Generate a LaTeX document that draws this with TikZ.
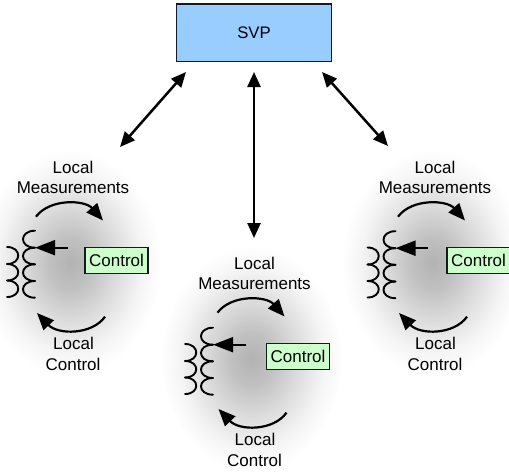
\documentclass[tikz,border=0pt]{standalone}
\usepackage{fontspec}
\setmainfont{Liberation Sans}
\usetikzlibrary{arrows.meta}
\definecolor{glowc}{HTML}{B2B2B2}
\definecolor{svpblue}{HTML}{99CCFF}
\definecolor{ctrlgreen}{HTML}{CCFFCC}
\definecolor{edgec}{HTML}{141A20}
\pgfdeclareradialshading{glowshade}{\pgfpoint{0bp}{0bp}}{color(0bp)=(glowc);color(6bp)=(glowc!80!white);color(12.5bp)=(glowc!47!white);color(20bp)=(glowc!13!white);color(25bp)=(white);color(50bp)=(white)}
\tikzset{
  glow/.style={shading=glowshade},
  lbl/.style={font=\fontsize{17}{20}\selectfont,anchor=base,inner sep=0pt,text=black},
  ctrlbox/.style={draw=edgec,line width=1.3pt,fill=ctrlgreen,minimum width=63pt,minimum height=26pt,inner sep=0pt,font=\fontsize{17}{20}\selectfont},
  svpbox/.style={draw=edgec,line width=1.6pt,fill=svpblue,minimum width=155pt,minimum height=57.5pt,inner sep=0pt,font=\fontsize{16.7}{20}\selectfont},
  coil/.style={line width=1.9pt,black,line cap=round},
  flow/.style={line width=2.2pt,black,-{Triangle[length=17pt,width=14pt]}},
  tap/.style={line width=1.8pt,black,-{Triangle[length=20pt,width=15pt]}},
  link/.style={line width=2.5pt,black,{Triangle[length=15pt,width=13pt]}-{Triangle[length=15pt,width=13pt]}}
}
\newcommand{\glowat}[2]{\shade[glow] (#1,#2) ellipse [x radius=91pt,y radius=113pt];}
\newcommand{\cluster}[5]{%
\begin{scope}[shift={(#4,#5)},name prefix=#3-]
  \draw[coil] (7,247) .. controls (22,247) and (22,264) .. (7,264);
  \draw[coil] (7,264) .. controls (22,264) and (22,280.5) .. (7,280.5);
  \draw[coil] (7,280.5) .. controls (22,280.5) and (22,297) .. (7,297);
  \draw[coil] (35,230.7) .. controls (19,230.7) and (19,247.7) .. (35,247.7);
  \draw[coil] (35,247.7) .. controls (19,247.7) and (19,264.3) .. (35,264.3);
  \draw[coil] (35,264.3) .. controls (19,264.3) and (19,281) .. (35,281);
  \draw[coil] (35,281) .. controls (19,281) and (19,297.7) .. (35,297.7);
  \coordinate (tapfrom) at (67.7,247.7);
  \coordinate (tapto) at (35,247.7);
  \draw[tap] (tapfrom) -- (tapto);
\end{scope}
\begin{scope}[shift={(#1,#2)},name prefix=#3-]
  \coordinate (ma) at (36,216.7);
  \coordinate (mb) at (103,220.5);
  \draw[flow] (ma) .. controls (50,198) and (85,200) .. (mb);
  \coordinate (ca) at (105,316.7);
  \coordinate (cb) at (37,313);
  \draw[flow] (ca) .. controls (92,335) and (58,335) .. (cb);
  \node[lbl] (l1) at (73,173) {Local};
  \node[lbl] (l2) at (73,193.5) {Measurements};
  \node[lbl] (l3) at (73.5,349) {Local};
  \node[lbl] (l4) at (73,370) {Control};
  \node[ctrlbox] (ctrl) at (116.5,260.5) {Control};
\end{scope}}
\begin{document}
\begin{tikzpicture}[x=1pt,y=-1pt]
  \useasboundingbox (0,0) rectangle (509,472);
  \clip (0,0) rectangle (509,472);
  \glowat{70}{263}
  \glowat{433}{263}
  \glowat{251.5}{359}
  \node[svpbox] (svp) at (254,32.7) {SVP};
  \cluster{0}{0}{L}{0}{0}
  \cluster{181.5}{96}{M}{178}{97}
  \cluster{362}{0}{R}{360.5}{0.5}
  \coordinate (lt) at (186,72);
  \coordinate (lb) at (120,147);
  \coordinate (mt) at (254,72);
  \coordinate (mb) at (254,238);
  \coordinate (rt) at (322,72);
  \coordinate (rb) at (388,146);
  \draw[link] (lt) -- (lb);
  \draw[link] (mt) -- (mb);
  \draw[link] (rt) -- (rb);
\end{tikzpicture}
\end{document}
